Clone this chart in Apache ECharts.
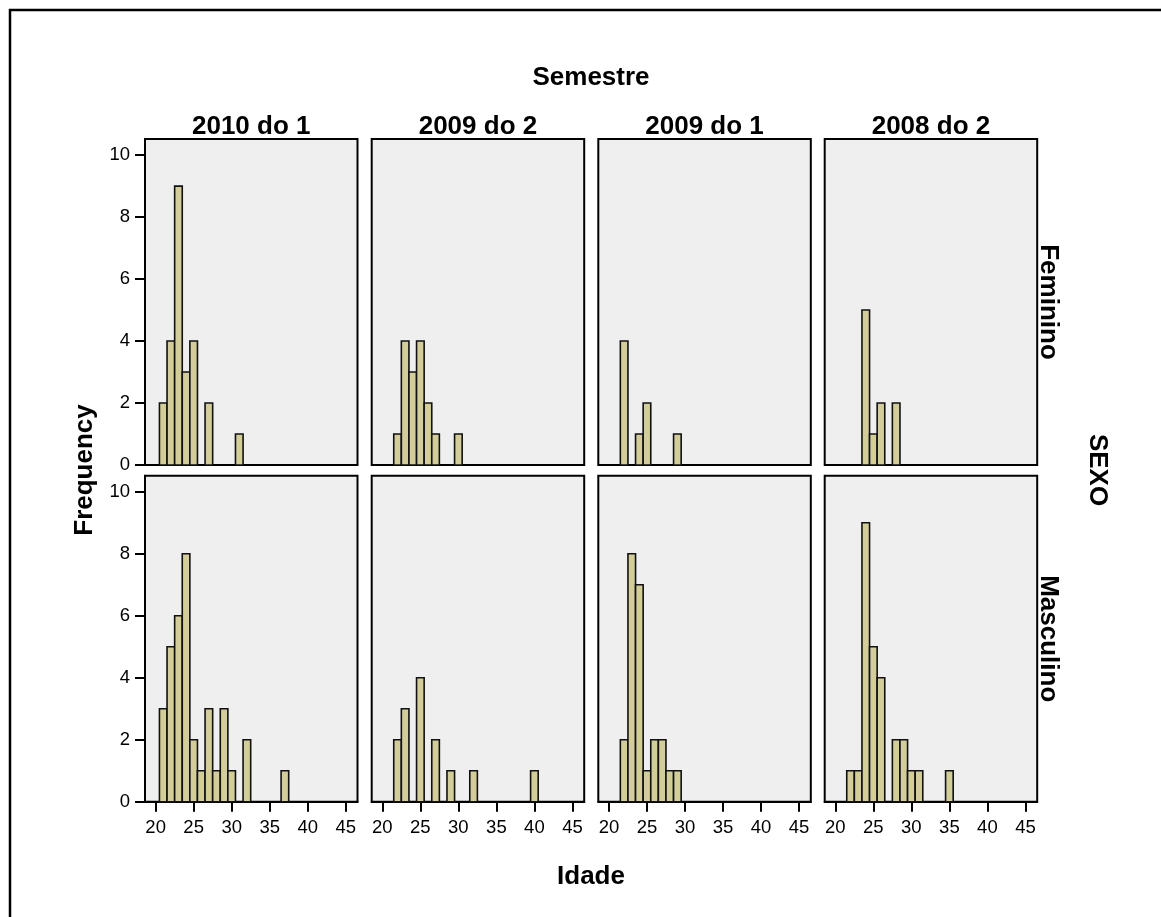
<!DOCTYPE html>
<html>
<head>
<meta charset="utf-8">
<script src="https://cdn.jsdelivr.net/npm/echarts@6/dist/echarts.min.js"></script>
<style>
html,body{margin:0;padding:0;background:#fff;}
#chart{width:1161px;height:917px;}
</style>
</head>
<body>
<div id="chart"></div>
<script>
// ---- Data ----
const semesters = ['2010 do 1', '2009 do 2', '2009 do 1', '2008 do 2'];
const sexes = ['Feminino', 'Masculino'];
const xTicks = [20, 25, 30, 35, 40, 45];
const yTicks = [0, 2, 4, 6, 8, 10];

// Feminino (top row): ages and frequencies
const femAges_2010_1 = [21, 22, 23, 24, 25, 27, 31];
const femCounts_2010_1 = [2, 4, 9, 3, 4, 2, 1];
const femAges_2009_2 = [22, 23, 24, 25, 26, 27, 30];
const femCounts_2009_2 = [1, 4, 3, 4, 2, 1, 1];
const femAges_2009_1 = [22, 24, 25, 29];
const femCounts_2009_1 = [4, 1, 2, 1];
const femAges_2008_2 = [24, 25, 26, 28];
const femCounts_2008_2 = [5, 1, 2, 2];

// Masculino (bottom row)
const mascAges_2010_1 = [21, 22, 23, 24, 25, 26, 27, 28, 29, 30, 32, 37];
const mascCounts_2010_1 = [3, 5, 6, 8, 2, 1, 3, 1, 3, 1, 2, 1];
const mascAges_2009_2 = [22, 23, 25, 27, 29, 32, 40];
const mascCounts_2009_2 = [2, 3, 4, 2, 1, 1, 1];
const mascAges_2009_1 = [22, 23, 24, 25, 26, 27, 28, 29];
const mascCounts_2009_1 = [2, 8, 7, 1, 2, 2, 1, 1];
const mascAges_2008_2 = [22, 23, 24, 25, 26, 28, 29, 30, 31, 35];
const mascCounts_2008_2 = [1, 1, 9, 5, 4, 2, 2, 1, 1, 1];

const panels = [
  [femAges_2010_1, femCounts_2010_1], [femAges_2009_2, femCounts_2009_2],
  [femAges_2009_1, femCounts_2009_1], [femAges_2008_2, femCounts_2008_2],
  [mascAges_2010_1, mascCounts_2010_1], [mascAges_2009_2, mascCounts_2009_2],
  [mascAges_2009_1, mascCounts_2009_1], [mascAges_2008_2, mascCounts_2008_2]
];

// ---- Layout ----
const colLeft = [145, 371.7, 598.3, 824.7];
const colWidth = 212.5;
const rowTop = [139, 475.7];
const rowHeight = 326;
const xMin = 18.6, xMax = 46.55;
const yMin = 0, yMax = 10.52;

const FONT = 'Liberation Sans, Arial, sans-serif';

const grids = [], xAxes = [], yAxes = [], series = [];
for (let r = 0; r < 2; r++) {
  for (let c = 0; c < 4; c++) {
    const i = r * 4 + c;
    grids.push({
      left: colLeft[c], top: rowTop[r], width: colWidth, height: rowHeight,
      show: true, backgroundColor: '#EFEFEF', borderColor: '#000', borderWidth: 2,
      containLabel: false
    });
    const showX = r === 1;
    xAxes.push({
      type: 'value', gridIndex: i, min: xMin, max: xMax, show: showX,
      axisLine: { show: true, onZero: false, lineStyle: { color: '#000', width: 2 } },
      axisTick: { show: true, customValues: xTicks, length: 10, lineStyle: { color: '#000', width: 2 } },
      axisLabel: { show: true, customValues: xTicks, color: '#000', fontSize: 18.5, fontFamily: FONT, margin: 17 },
      splitLine: { show: false }
    });
    const showY = c === 0;
    yAxes.push({
      type: 'value', gridIndex: i, min: yMin, max: yMax, show: showY,
      axisLine: { show: true, lineStyle: { color: '#000', width: 2 } },
      axisTick: { show: true, customValues: yTicks, length: 10, lineStyle: { color: '#000', width: 2 } },
      axisLabel: { show: true, customValues: yTicks, color: '#000', fontSize: 18.5, fontFamily: FONT, margin: 15 },
      splitLine: { show: false }
    });
    const ages = panels[i][0], counts = panels[i][1];
    series.push({
      type: 'custom', xAxisIndex: i, yAxisIndex: i,
      data: ages.map((a, k) => [a, counts[k]]),
      encode: { x: 0, y: 1 },
      clip: false,
      renderItem: function (params, api) {
        const x = api.value(0), y = api.value(1);
        const p0 = api.coord([x - 0.5, y]);
        const p1 = api.coord([x + 0.5, 0]);
        return {
          type: 'rect',
          shape: { x: p0[0], y: p0[1], width: p1[0] - p0[0], height: p1[1] - p0[1] },
          style: { fill: '#D3CE99', stroke: '#111', lineWidth: 1.6 }
        };
      }
    });
  }
}

const graphics = [
  { type: 'rect', shape: { x: 10, y: 10, width: 1300, height: 1000 }, style: { fill: 'none', stroke: '#000', lineWidth: 2.5 }, z: 100 },
  { type: 'text', x: 591, y: 78, style: { text: 'Semestre', font: 'bold 26px ' + FONT, fill: '#000', textAlign: 'center', textVerticalAlign: 'middle' } },
  { type: 'text', x: 591, y: 877, style: { text: 'Idade', font: 'bold 26px ' + FONT, fill: '#000', textAlign: 'center', textVerticalAlign: 'middle' } },
  { type: 'text', x: 85, y: 470, rotation: Math.PI / 2, style: { text: 'Frequency', font: 'bold 26px ' + FONT, fill: '#000', textAlign: 'center', textVerticalAlign: 'middle' } },
  { type: 'text', x: 1097, y: 470, rotation: -Math.PI / 2, style: { text: 'SEXO', font: 'bold 26px ' + FONT, fill: '#000', textAlign: 'center', textVerticalAlign: 'middle' } }
];
semesters.forEach((s, c) => {
  graphics.push({ type: 'text', x: colLeft[c] + colWidth / 2, y: 127, style: { text: s, font: 'bold 26px ' + FONT, fill: '#000', textAlign: 'center', textVerticalAlign: 'middle' } });
});
sexes.forEach((s, r) => {
  graphics.push({ type: 'text', x: 1048, y: rowTop[r] + rowHeight / 2, rotation: -Math.PI / 2, style: { text: s, font: 'bold 26px ' + FONT, fill: '#000', textAlign: 'center', textVerticalAlign: 'middle' } });
});

const chart = echarts.init(document.getElementById('chart'), null, { renderer: 'canvas' });
chart.setOption({
  backgroundColor: '#fff',
  animation: false,
  grid: grids,
  xAxis: xAxes,
  yAxis: yAxes,
  series: series,
  graphic: graphics
});
</script>
</body>
</html>
